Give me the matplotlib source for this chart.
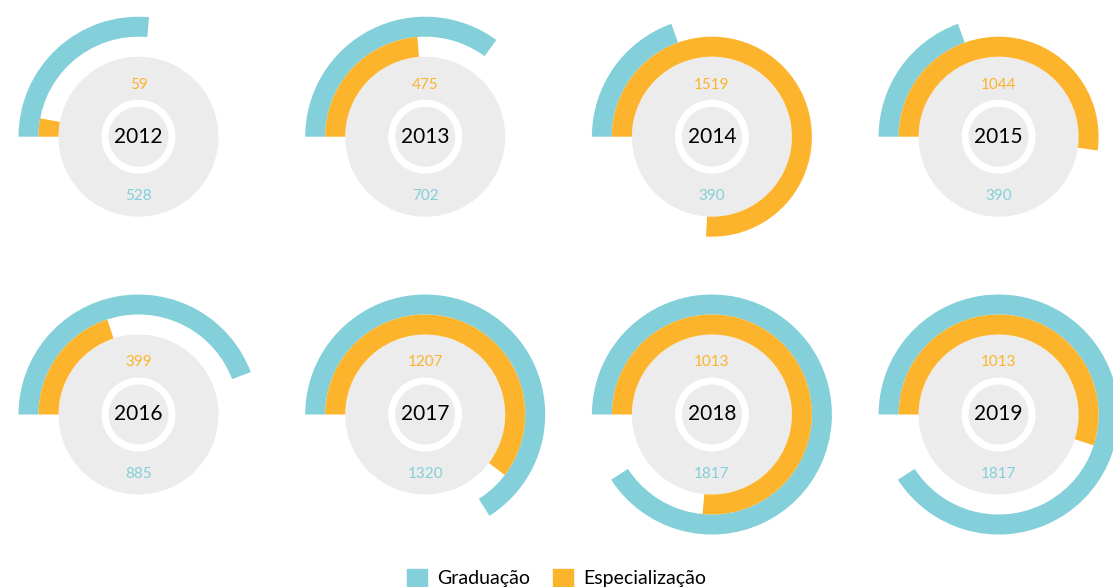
import numpy as np
import matplotlib.pyplot as plt
from matplotlib.patches import Patch

plt.rcParams['font.family'] = ['Lato', 'DejaVu Sans']

years = [2012, 2013, 2014, 2015, 2016, 2017, 2018, 2019]
graduacao = [528, 702, 390, 390, 885, 1320, 1817, 1817]
especializacao = [59, 475, 1519, 1044, 399, 1207, 1013, 1013]
# arcs as drawn in the source (2018/2019 orange arcs don't match their labels)
especializacao_arc = [59, 475, 1519, 1044, 399, 1207, 1530, 1100]
full_scale = 2000

TEAL = '#83D0DA'
ORANGE = '#FDB42D'
GRAY = '#EBECEB'

W, H = 1113, 587
centers_x = [138.5, 425.2, 711.9, 998.6]
centers_y = [136.7, 414.5]
R = 121

fig = plt.figure(figsize=(W / 100, H / 100), dpi=100)

for i, year in enumerate(years):
    cx = centers_x[i % 4]
    cy = centers_y[i // 4]
    ax = fig.add_axes([(cx - R) / W, (H - cy - R) / H, 2 * R / W, 2 * R / H],
                      projection='polar')
    ax.set_theta_offset(np.pi)
    ax.set_theta_direction(-1)
    ax.set_ylim(0, R)
    ax.set_axis_off()

    ax.bar(0, 80, width=2 * np.pi, bottom=0, align='edge', color=GRAY, linewidth=0)
    ax.bar(0, 7, width=2 * np.pi, bottom=30, align='edge', color='white', linewidth=0)
    ax.bar(0, 20, width=graduacao[i] / full_scale * 2 * np.pi, bottom=100,
           align='edge', color=TEAL, linewidth=0)
    ax.bar(0, 20, width=especializacao_arc[i] / full_scale * 2 * np.pi, bottom=80,
           align='edge', color=ORANGE, linewidth=0)

    ax.text(0, 0, str(year), ha='center', va='center', fontsize=15, color='black')
    ax.text(np.pi / 2, 52, str(especializacao[i]), ha='center', va='center',
            fontsize=11, color=ORANGE)
    ax.text(3 * np.pi / 2, 59, str(graduacao[i]), ha='center', va='center',
            fontsize=11, color=TEAL)

handles = [Patch(color=TEAL, label='Graduação'), Patch(color=ORANGE, label='Especialização')]
fig.legend(handles=handles, loc='center', bbox_to_anchor=(0.5, 9 / H), ncol=2,
           frameon=False, fontsize=14, handlelength=1.03, handleheight=1.03,
           handletextpad=0.5, columnspacing=1.2, borderpad=0, borderaxespad=0)

fig.savefig('out.png', dpi=100)
